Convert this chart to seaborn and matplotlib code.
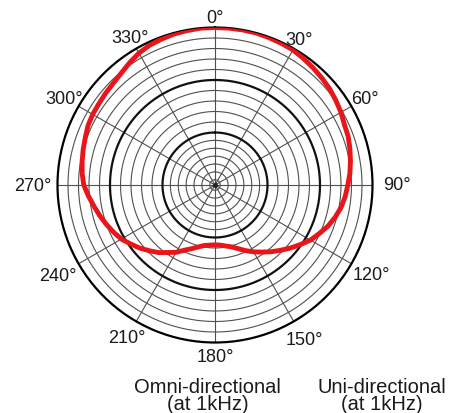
import numpy as np
import pandas as pd
import matplotlib
matplotlib.use("Agg")
import matplotlib.pyplot as plt
import seaborn as sns

# ---- data (every 5 degrees) ----
angles_deg = list(range(0, 360, 5))
level_db = [0.0, 0.0, 0.0, 0.0, -0.1, -0.2, -0.3, -0.6, -0.9, -1.2, -1.5, -1.9,
            -2.3, -2.8, -3.0, -3.4, -3.8, -4.2, -4.7, -5.1, -5.6, -6.3, -7.1, -8.1,
            -9.0, -10.2, -11.3, -12.4, -13.4, -14.4, -15.3, -16.2, -17.1, -17.8, -18.2, -18.5,
            -18.6, -18.5, -18.3, -17.8, -17.1, -16.3, -15.2, -14.3, -13.2, -12.3, -11.3, -10.4,
            -9.4, -8.7, -8.0, -7.3, -6.6, -5.8, -5.0, -4.6, -4.3, -4.0, -3.7, -3.3,
            -3.1, -3.0, -2.8, -2.6, -2.2, -1.6, -1.0, -0.6, -0.4, -0.2, -0.1, 0.0]
tick_angles = [0, 30, 60, 90, 120, 150, 180, 210, 240, 270, 300, 330]
tick_labels = ["0°", "30°", "60°", "90°", "120°", "150°", "180°", "210°", "240°", "270°", "300°", "330°"]
range_db = 30
thin_rings = [1, 2.5, 4, 5.5, 7, 8.5, 12, 14, 16, 18, 22, 24, 26, 28]
thick_rings = [10, 20]
captions = ["Omni-directional\n(at 1kHz)", "Uni-directional\n(at 1kHz)"]

# ---- figure ----
sns.set_style("white")
plt.rcParams["font.family"] = ["Liberation Sans", "DejaVu Sans"]

fig = plt.figure(figsize=(4.51, 4.14), dpi=100)
fig.patch.set_facecolor("white")
ax = fig.add_axes([57.5 / 451, 1 - 343.5 / 414, 315 / 451, 315 / 414], projection="polar")
ax.set_theta_zero_location("N")
ax.set_theta_direction(-1)
ax.set_ylim(0, range_db)
ax.grid(False)
ax.set_xticks([])
ax.set_yticks([])
ax.spines["polar"].set_color("black")
ax.spines["polar"].set_linewidth(1.6)

circle_t = np.linspace(0, 2 * np.pi, 721)
for r in thin_rings:
    ax.plot(circle_t, np.full_like(circle_t, r), color="#505050", lw=0.8, zorder=1)
for r in thick_rings:
    ax.plot(circle_t, np.full_like(circle_t, r), color="#111111", lw=1.6, zorder=2)
for a in tick_angles:
    ax.plot([np.deg2rad(a), np.deg2rad(a)], [0, range_db], color="#505050", lw=0.8, zorder=1)
ax.plot([0], [0], marker="o", ms=2.5, color="#222222", zorder=3)

df = pd.DataFrame({
    "theta": np.deg2rad(angles_deg + [360]),
    "r": np.array(level_db + [level_db[0]]) + range_db,
})
sns.lineplot(data=df, x="theta", y="r", ax=ax, color="#e8151b", lw=3.5, sort=False,
             estimator=None, zorder=5, solid_joinstyle="round", solid_capstyle="round")
ax.set_xlabel("")
ax.set_ylabel("")

# angle labels around the rim (radius in px of label centre / 157.5 * range)
label_r_px = [168, 168, 173, 182, 180, 178, 172, 176, 181, 182, 174, 170]
for a, lab, rp in zip(tick_angles, tick_labels, label_r_px):
    ax.text(np.deg2rad(a), rp / 157.5 * range_db, lab, ha="center", va="center",
            fontsize=13, color="#1a1a1a", clip_on=False)

fig.text(207.5 / 451, 1 - 396 / 414, captions[0], ha="center", va="center",
         fontsize=14.5, color="#1a1a1a", linespacing=0.92)
fig.text(382 / 451, 1 - 396 / 414, captions[1], ha="center", va="center",
         fontsize=14.5, color="#1a1a1a", linespacing=0.92)

fig.savefig("out.png", dpi=100, facecolor="white")
